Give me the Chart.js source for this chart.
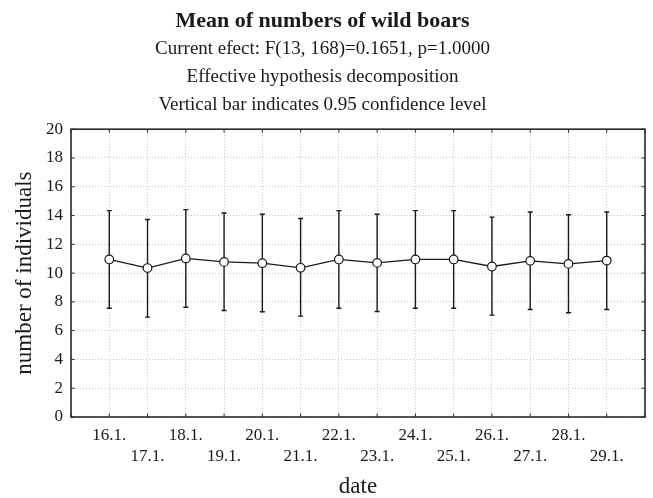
<!DOCTYPE html>
<html>
<head>
<meta charset="utf-8">
<script src="https://cdn.jsdelivr.net/npm/chart.js@4"></script>
<style>
  body { margin: 0; background: #fff; }
</style>
</head>
<body>
<canvas id="chart" width="653" height="498"></canvas>
<script>
// Means with 0.95 confidence intervals, one per day
const dates = ['16.1.', '17.1.', '18.1.', '19.1.', '20.1.', '21.1.', '22.1.',
               '23.1.', '24.1.', '25.1.', '26.1.', '27.1.', '28.1.', '29.1.'];
const means = [10.95, 10.35, 11.02, 10.78, 10.69, 10.37, 10.95,
               10.71, 10.95, 10.95, 10.46, 10.85, 10.64, 10.87];
const lower = [7.56, 6.94, 7.63, 7.40, 7.31, 7.01, 7.56,
               7.33, 7.56, 7.56, 7.08, 7.47, 7.24, 7.47];
const upper = [14.34, 13.72, 14.41, 14.18, 14.09, 13.79, 14.34,
               14.09, 14.34, 14.34, 13.89, 14.25, 14.05, 14.25];

const yMin = 0;
const yMax = 20;
const yStep = 2;

const serif = 'Liberation Serif';
const ink = '#1a1a1a';

// error bars go under the points
const errorBars = {
    id: 'errorBars',
    beforeDatasetsDraw(chart) {
        const { ctx, scales: { x, y } } = chart;
        ctx.save();
        ctx.strokeStyle = ink;
        ctx.lineWidth = 1.4;
        dates.forEach((d, i) => {
            const px = x.getPixelForValue(i + 1);
            const top = y.getPixelForValue(upper[i]);
            const bot = y.getPixelForValue(lower[i]);
            ctx.beginPath();
            ctx.moveTo(px, top);
            ctx.lineTo(px, bot);
            ctx.moveTo(px - 2.5, top);
            ctx.lineTo(px + 2.5, top);
            ctx.moveTo(px - 2.5, bot);
            ctx.lineTo(px + 2.5, bot);
            ctx.stroke();
        });
        ctx.restore();
    }
};

// closed frame with small inward ticks on all four sides
const frame = {
    id: 'frame',
    beforeDatasetsDraw(chart) {
        const { ctx, chartArea: a, scales: { x, y } } = chart;
        const len = 3.5;
        ctx.save();
        ctx.strokeStyle = '#2a2a2a';
        ctx.lineWidth = 1;
        ctx.beginPath();
        x.ticks.forEach(t => {
            const px = x.getPixelForValue(t.value);
            ctx.moveTo(px, a.bottom);
            ctx.lineTo(px, a.bottom - len);
            ctx.moveTo(px, a.top);
            ctx.lineTo(px, a.top + len);
        });
        y.ticks.forEach(t => {
            const py = y.getPixelForValue(t.value);
            ctx.moveTo(a.left, py);
            ctx.lineTo(a.left + len, py);
            ctx.moveTo(a.right, py);
            ctx.lineTo(a.right - len, py);
        });
        ctx.stroke();
        ctx.lineWidth = 1.6;
        ctx.strokeRect(a.left, a.top, a.right - a.left, a.bottom - a.top);
        ctx.restore();
    }
};

const ctx = document.getElementById('chart').getContext('2d');
new Chart(ctx, {
    type: 'line',
    data: {
        datasets: [{
            data: means.map((m, i) => ({ x: i + 1, y: m })),
            borderColor: ink,
            borderWidth: 1.3,
            pointRadius: 4.3,
            pointBackgroundColor: '#fff',
            pointBorderColor: ink,
            pointBorderWidth: 1.2,
            tension: 0,
        }],
    },
    options: {
        responsive: false,
        animation: false,
        layout: { padding: { left: 0, right: 8, top: 0, bottom: 0 } },
        plugins: {
            legend: { display: false },
            tooltip: { enabled: false },
            title: {
                display: true,
                text: 'Mean of numbers of wild boars',
                color: ink,
                font: { family: serif, size: 22, weight: 'bold', lineHeight: 1.2 },
                padding: { top: 8, bottom: 0 },
            },
            subtitle: {
                display: true,
                text: ['Current efect: F(13, 168)=0.1651, p=1.0000',
                       'Effective hypothesis decomposition',
                       'Vertical bar indicates 0.95 confidence level'],
                color: ink,
                font: { family: serif, size: 19, lineHeight: 1.47 },
                padding: { top: 1, bottom: 10 },
            },
        },
        scales: {
            x: {
                type: 'linear',
                min: 0,
                max: dates.length + 1,
                afterBuildTicks(axis) {
                    axis.ticks = [];
                    for (let v = 0; v <= dates.length + 1; v++) axis.ticks.push({ value: v });
                },
                ticks: {
                    autoSkip: false,
                    maxRotation: 0,
                    minRotation: 0,
                    padding: 8,
                    color: ink,
                    font: { family: serif, size: 17, lineHeight: 1.235 },
                    callback(value) {
                        const i = value - 1;
                        if (i < 0 || i >= dates.length) return '';
                        return i % 2 === 0 ? [dates[i], ''] : ['', dates[i]];
                    },
                },
                grid: { color: '#c4c4c4', drawTicks: false },
                border: { display: false, dash: [1, 2] },
                title: {
                    display: true,
                    text: 'date',
                    color: ink,
                    font: { family: serif, size: 23, lineHeight: 1 },
                    padding: { top: 0, bottom: 0 },
                },
            },
            y: {
                min: yMin,
                max: yMax,
                ticks: {
                    stepSize: yStep,
                    padding: 8,
                    color: ink,
                    font: { family: serif, size: 17 },
                },
                grid: { color: '#c4c4c4', drawTicks: false },
                border: { display: false, dash: [1, 2] },
                title: {
                    display: true,
                    text: 'number of individuals',
                    color: ink,
                    font: { family: serif, size: 23, lineHeight: 1 },
                    padding: { top: 13, bottom: 2 },
                },
            },
        },
    },
    plugins: [errorBars, frame],
});
</script>
</body>
</html>
